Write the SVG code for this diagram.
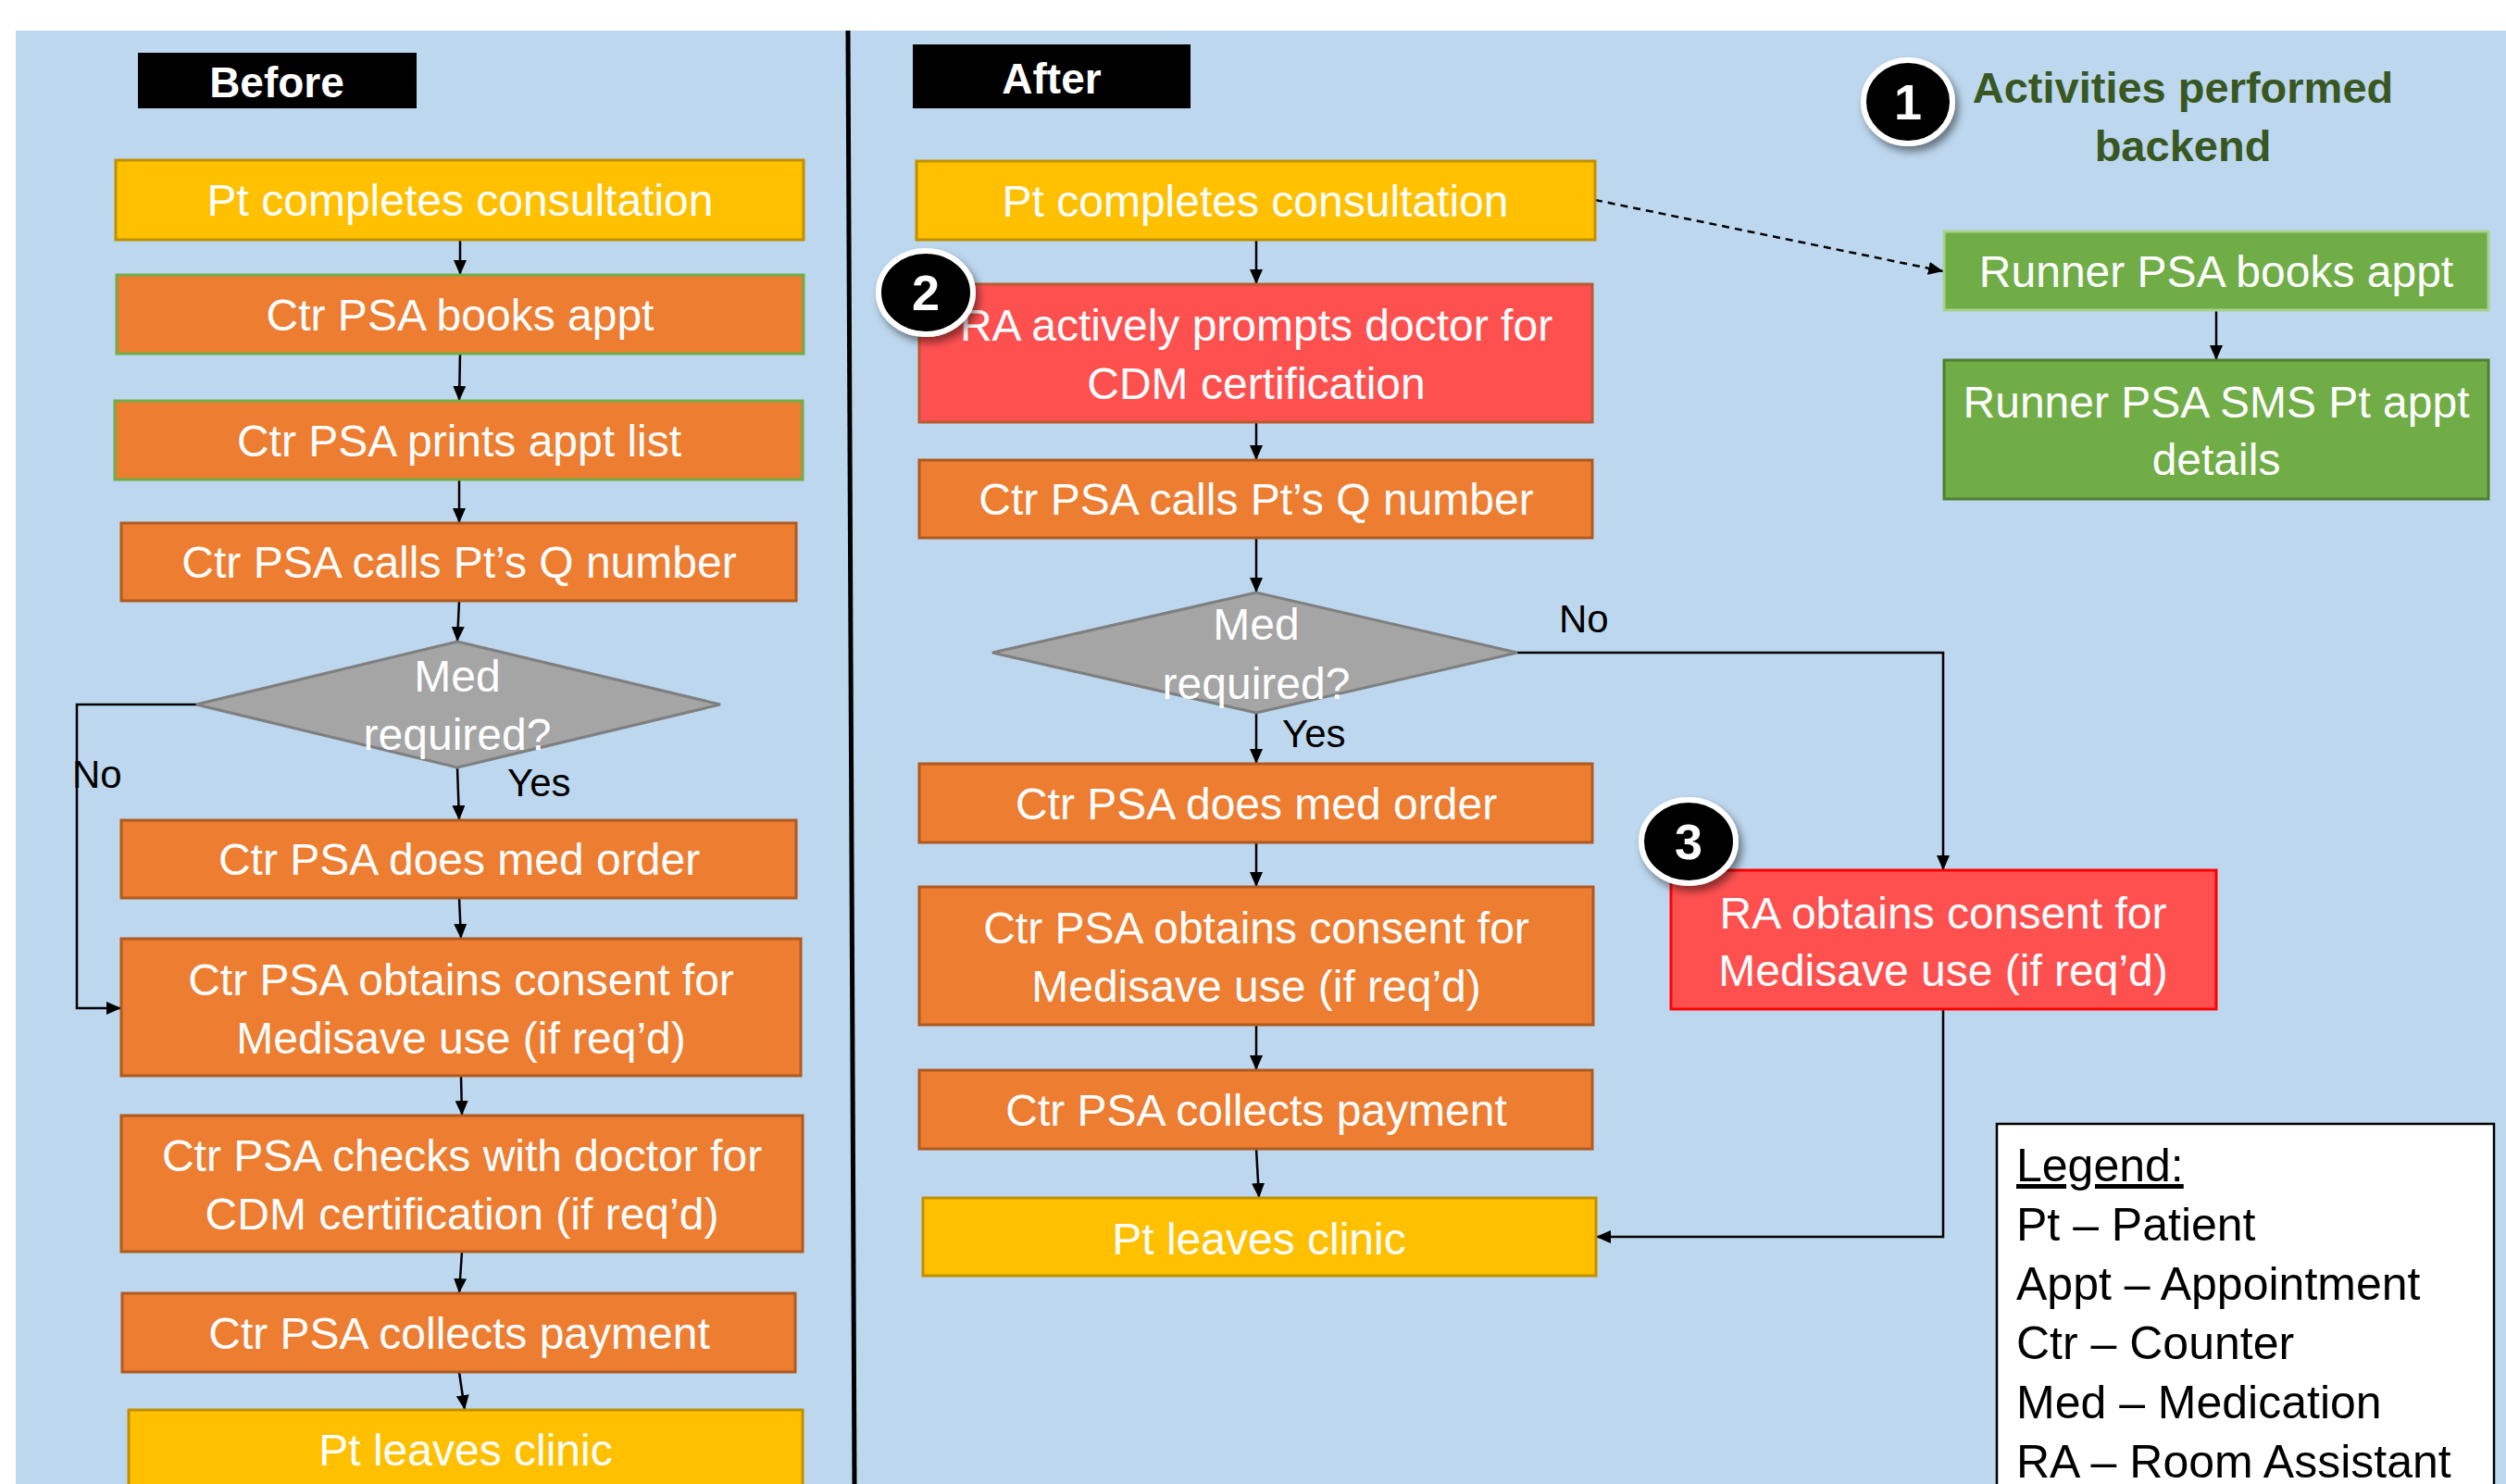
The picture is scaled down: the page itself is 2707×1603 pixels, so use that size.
<svg xmlns="http://www.w3.org/2000/svg" width="2707" height="1603" viewBox="0 0 2707 1603">
<style>
.t{font-family:"Liberation Sans",Arial,sans-serif;font-size:48px;fill:#fff;text-anchor:middle}
.k{font-family:"Liberation Sans",Arial,sans-serif;font-size:42px;fill:#000}
.lg{font-family:"Liberation Sans",Arial,sans-serif;font-size:50px;fill:#000}
.hd{font-family:"Liberation Sans",Arial,sans-serif;font-size:46px;font-weight:bold;fill:#fff;text-anchor:middle}
.act{font-family:"Liberation Sans",Arial,sans-serif;font-size:47px;font-weight:bold;fill:#385723;text-anchor:middle}
.num{font-family:"Liberation Sans",Arial,sans-serif;font-size:54px;font-weight:bold;fill:#fff;text-anchor:middle}
.yel{fill:#FFC000;stroke:#BF9000;stroke-width:3}
.org{fill:#ED7D31;stroke:#AE5A21;stroke-width:3}
.orgG{fill:#ED7D31;stroke:#70AD47;stroke-width:3}
.red{fill:#FF5050;stroke:#B85A30;stroke-width:3}
.red2{fill:#FF5050;stroke:#FF0000;stroke-width:3}
.grn{fill:#70AD47;stroke:#A9D18E;stroke-width:3}
.grn2{fill:#70AD47;stroke:#507E32;stroke-width:3}
.dia{fill:#A5A5A5;stroke:#7F7F7F;stroke-width:3}
.badge{fill:#000;stroke:#fff;stroke-width:6}
.c{fill:none;stroke:#000;stroke-width:2.5}
.d{fill:none;stroke:#000;stroke-width:2.5;stroke-dasharray:8 6}
</style>
<defs>
<marker id="ah" markerUnits="userSpaceOnUse" markerWidth="16" markerHeight="14" refX="16" refY="7" orient="auto">
<path d="M0,0 L16,7 L0,14 z" fill="#000"/>
</marker>
<filter id="sh" x="-30%" y="-30%" width="160%" height="160%">
<feDropShadow dx="4" dy="6" stdDeviation="4" flood-color="#000" flood-opacity="0.45"/>
</filter>
</defs>
<rect x="0" y="0" width="2707" height="1603" fill="#fff"/>
<rect id="panel" x="17" y="33" width="2690" height="1570" fill="#BDD7EE"/>
<line id="divider" x1="916" y1="33" x2="923" y2="1603" stroke="#000" stroke-width="5"/>

<g id="before-label"><rect x="149" y="57" width="301" height="60" fill="#000"/><text class="hd" x="299" y="105">Before</text></g>
<g id="after-label"><rect x="986" y="48" width="300" height="69" fill="#000"/><text class="hd" x="1136" y="101">After</text></g>

<g id="connectors">
<line class="c" x1="497" y1="259" x2="497" y2="297" marker-end="url(#ah)"/>
<line class="c" x1="497" y1="382" x2="496" y2="433" marker-end="url(#ah)"/>
<line class="c" x1="496" y1="518" x2="496" y2="565" marker-end="url(#ah)"/>
<line class="c" x1="496" y1="649" x2="494" y2="693" marker-end="url(#ah)"/>
<line class="c" x1="494" y1="829" x2="496" y2="886" marker-end="url(#ah)"/>
<line class="c" x1="496" y1="970" x2="498" y2="1014" marker-end="url(#ah)"/>
<line class="c" x1="498" y1="1162" x2="499" y2="1205" marker-end="url(#ah)"/>
<line class="c" x1="499" y1="1352" x2="496" y2="1397" marker-end="url(#ah)"/>
<line class="c" x1="496" y1="1482" x2="502" y2="1523" marker-end="url(#ah)"/>
<path class="c" d="M212,761 H83 V1089 H131" marker-end="url(#ah)"/>
<text class="k" x="78" y="851">No</text>
<text class="k" x="548" y="860">Yes</text>

<line class="c" x1="1357" y1="259" x2="1357" y2="307" marker-end="url(#ah)"/>
<line class="c" x1="1357" y1="456" x2="1357" y2="497" marker-end="url(#ah)"/>
<line class="c" x1="1357" y1="581" x2="1357" y2="640" marker-end="url(#ah)"/>
<line class="c" x1="1357" y1="770" x2="1357" y2="825" marker-end="url(#ah)"/>
<line class="c" x1="1357" y1="910" x2="1357" y2="958" marker-end="url(#ah)"/>
<line class="c" x1="1357" y1="1107" x2="1357" y2="1156" marker-end="url(#ah)"/>
<line class="c" x1="1357" y1="1241" x2="1360" y2="1294" marker-end="url(#ah)"/>
<path class="c" d="M1639,705 H2099 V940" marker-end="url(#ah)"/>
<path class="c" d="M2099,1090 V1336 H1724" marker-end="url(#ah)"/>
<line class="d" x1="1723" y1="216" x2="2099" y2="293" marker-end="url(#ah)"/>
<line class="c" x1="2394" y1="335" x2="2394" y2="389" marker-end="url(#ah)"/>
<text class="k" x="1684" y="683">No</text>
<text class="k" x="1385" y="807">Yes</text>
</g>

<g id="b1"><rect class="yel" x="125" y="173" width="743" height="86"/><text class="t" x="497" y="233">Pt completes consultation</text></g>
<g id="b2"><rect class="orgG" x="126" y="297" width="742" height="85"/><text class="t" x="497" y="357">Ctr PSA books appt</text></g>
<g id="b3"><rect class="orgG" x="124" y="433" width="743" height="85"/><text class="t" x="496" y="493">Ctr PSA prints appt list</text></g>
<g id="b4"><rect class="org" x="131" y="565" width="729" height="84"/><text class="t" x="496" y="624">Ctr PSA calls Pt’s Q number</text></g>
<g id="b5"><polygon class="dia" points="212,761 494,693 778,761 494,829"/><text class="t" x="494" y="747">Med</text><text class="t" x="494" y="810">required?</text></g>
<g id="b6"><rect class="org" x="131" y="886" width="729" height="84"/><text class="t" x="496" y="945">Ctr PSA does med order</text></g>
<g id="b7"><rect class="org" x="131" y="1014" width="734" height="148"/><text class="t" x="498" y="1075">Ctr PSA obtains consent for</text><text class="t" x="498" y="1138">Medisave use (if req’d)</text></g>
<g id="b8"><rect class="org" x="131" y="1205" width="736" height="147"/><text class="t" x="499" y="1265">Ctr PSA checks with doctor for</text><text class="t" x="499" y="1328">CDM certification (if req’d)</text></g>
<g id="b9"><rect class="org" x="132" y="1397" width="727" height="85"/><text class="t" x="496" y="1457">Ctr PSA collects payment</text></g>
<g id="b10"><rect class="yel" x="139" y="1523" width="728" height="110"/><text class="t" x="503" y="1583">Pt leaves clinic</text></g>

<g id="a1"><rect class="yel" x="990" y="174" width="733" height="85"/><text class="t" x="1356" y="234">Pt completes consultation</text></g>
<g id="a2"><rect class="red" x="993" y="307" width="727" height="149"/><text class="t" x="1357" y="368">RA actively prompts doctor for</text><text class="t" x="1357" y="431">CDM certification</text></g>
<g id="a3"><rect class="org" x="993" y="497" width="727" height="84"/><text class="t" x="1357" y="556">Ctr PSA calls Pt’s Q number</text></g>
<g id="a4"><polygon class="dia" points="1072,705 1357,640 1639,705 1357,770"/><text class="t" x="1357" y="691">Med</text><text class="t" x="1357" y="755">required?</text></g>
<g id="a5"><rect class="org" x="993" y="825" width="727" height="85"/><text class="t" x="1357" y="885">Ctr PSA does med order</text></g>
<g id="a6"><rect class="org" x="993" y="958" width="728" height="149"/><text class="t" x="1357" y="1019">Ctr PSA obtains consent for</text><text class="t" x="1357" y="1082">Medisave use (if req’d)</text></g>
<g id="a7"><rect class="org" x="993" y="1156" width="727" height="85"/><text class="t" x="1357" y="1216">Ctr PSA collects payment</text></g>
<g id="a8"><rect class="yel" x="997" y="1294" width="727" height="84"/><text class="t" x="1360" y="1355">Pt leaves clinic</text></g>
<g id="a9"><rect class="red2" x="1805" y="940" width="589" height="150"/><text class="t" x="2099" y="1003">RA obtains consent for</text><text class="t" x="2099" y="1065">Medisave use (if req’d)</text></g>
<g id="r1"><rect class="grn" x="2100" y="250" width="588" height="85"/><text class="t" x="2394" y="310">Runner PSA books appt</text></g>
<g id="r2"><rect class="grn2" x="2100" y="389" width="588" height="150"/><text class="t" x="2394" y="451">Runner PSA SMS Pt appt</text><text class="t" x="2394" y="513">details</text></g>

<g id="note1"><ellipse class="badge" cx="2061" cy="110" rx="48" ry="45" filter="url(#sh)"/><text class="num" x="2061" y="129">1</text>
<text class="act" x="2358" y="111">Activities performed</text><text class="act" x="2358" y="174">backend</text></g>
<g id="note2"><ellipse class="badge" cx="1000" cy="316" rx="51" ry="45" filter="url(#sh)"/><text class="num" x="1000" y="335">2</text></g>
<g id="note3"><ellipse class="badge" cx="1824" cy="909" rx="51" ry="45" filter="url(#sh)"/><text class="num" x="1824" y="928">3</text></g>

<g id="legend"><rect x="2157" y="1214" width="537" height="420" fill="#fff" stroke="#000" stroke-width="2.5"/>
<text class="lg" x="2178" y="1276" text-decoration="underline">Legend:</text>
<text class="lg" x="2178" y="1340">Pt – Patient</text>
<text class="lg" x="2178" y="1404">Appt – Appointment</text>
<text class="lg" x="2178" y="1468">Ctr – Counter</text>
<text class="lg" x="2178" y="1532">Med – Medication</text>
<text class="lg" x="2178" y="1596">RA – Room Assistant</text></g>
</svg>
